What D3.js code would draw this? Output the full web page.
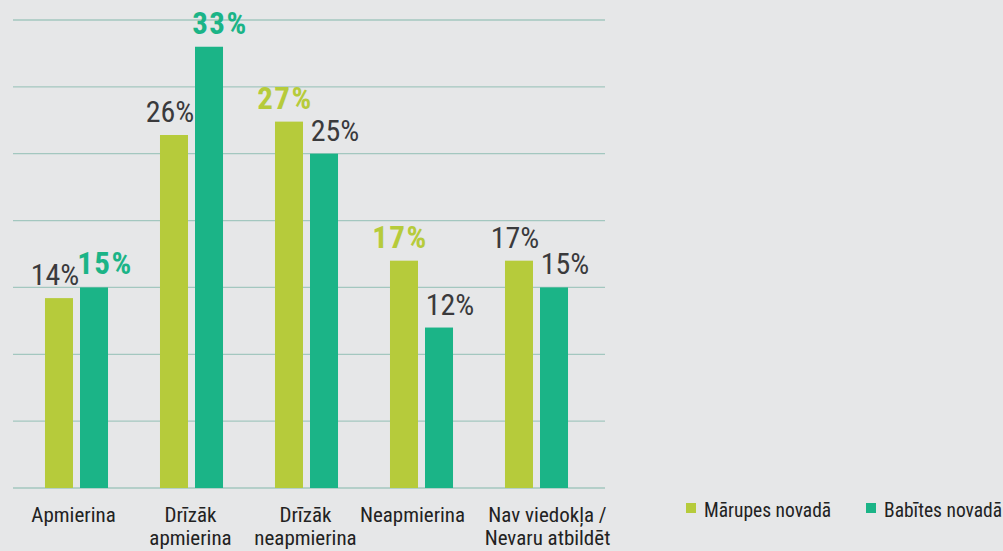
<!DOCTYPE html>
<html>
<head>
<meta charset="UTF-8">
<title>Apmierinātība</title>
<script src="https://cdn.jsdelivr.net/npm/d3@7"></script>
<style>
  body { margin: 0; background: #e6e7e8; }
  text { font-family: "Roboto Condensed", "Liberation Sans Narrow", "DejaVu Sans Condensed", sans-serif; font-stretch: condensed; }
</style>
</head>
<body>
<div id="app"></div>
<script>
  // dati
  var categories = [["Apmierina"], ["Drīzāk", "apmierina"], ["Drīzāk", "neapmierina"], ["Neapmierina"], ["Nav viedokļa /", "Nevaru atbildēt"]];
  var seriesNames = ["Mārupes novadā", "Babītes novadā"];
  var marupe = [14.2, 26.4, 27.4, 17, 17];
  var babite = [15, 33, 25, 12, 15];
  var marupeLabels = ["14%", "26%", "27%", "17%", "17%"];
  var babiteLabels = ["15%", "33%", "25%", "12%", "15%"];
  // kurš uzraksts izcelts (krāsains, trekns)
  var marupeHighlight = [false, false, true, true, false];
  var babiteHighlight = [true, true, false, false, false];
  var yTicks = [0, 5, 10, 15, 20, 25, 30, 35];

  var colors = ["#b6cb3b", "#1bb487"];
  var W = 1003, H = 551;

  var svg = d3.select('#app').append('svg').attr('width', W).attr('height', H);
  svg.append('rect').attr('width', W).attr('height', H).attr('fill', '#e6e7e8');

  var x = d3.scaleBand().domain(d3.range(categories.length)).range([19, 594]).paddingInner(0.452).paddingOuter(0.226);
  var xs = d3.scaleBand().domain([0, 1]).range([0, x.bandwidth()]).paddingInner(0.2);
  var y = d3.scaleLinear().domain([0, 35]).range([488, 20]);

  // režģis
  svg.append('g').selectAll('line').data(yTicks).enter().append('line')
    .attr('x1', 13).attr('x2', 605)
    .attr('y1', function(d){ return y(d); })
    .attr('y2', function(d){ return y(d); })
    .attr('stroke', '#a3c7bf').attr('stroke-width', 1.3);

  var series = [
    { vals: marupe, labels: marupeLabels, hl: marupeHighlight, dx: -4 },
    { vals: babite, labels: babiteLabels, hl: babiteHighlight, dx: 11 }
  ];

  series.forEach(function(s, si){
    var g = svg.append('g');
    g.selectAll('rect').data(s.vals).enter().append('rect')
      .attr('x', function(d, i){ return x(i) + xs(si); })
      .attr('y', function(d){ return y(d); })
      .attr('width', xs.bandwidth())
      .attr('height', function(d){ return y(0) - y(d); })
      .attr('fill', colors[si]);
    g.selectAll('text').data(s.vals).enter().append('text')
      .attr('x', function(d, i){ return x(i) + xs(si) + xs.bandwidth() / 2 + s.dx; })
      .attr('y', function(d){ return y(d) - 13; })
      .attr('text-anchor', 'middle')
      .attr('font-size', function(d, i){ return s.hl[i] ? 31 : 30; })
      .attr('letter-spacing', function(d, i){ return s.hl[i] ? 1.5 : 0; })
      .attr('font-weight', function(d, i){ return s.hl[i] ? 'bold' : 'normal'; })
      .attr('fill', function(d, i){ return s.hl[i] ? colors[si] : '#3a3a3c'; })
      .text(function(d, i){ return s.labels[i]; });
  });

  // kategoriju nosaukumi
  var labelShift = [-3, -1, -1, -9, 11];
  var cat = svg.append('g').selectAll('text').data(categories).enter().append('text')
    .attr('x', function(d, i){ return x(i) + x.bandwidth() / 2 + labelShift[i]; })
    .attr('y', 522)
    .attr('text-anchor', 'middle')
    .attr('font-size', 21)
    .attr('fill', '#222');
  cat.selectAll('tspan').data(function(d){ return d; }).enter().append('tspan')
    .attr('x', function(){ return this.parentNode.getAttribute('x'); })
    .attr('dy', function(d, i){ return i ? 23 : 0; })
    .text(function(d){ return d; });

  // leģenda
  var legX = [686, 866];
  var leg = svg.append('g').selectAll('g').data(seriesNames).enter().append('g')
    .attr('transform', function(d, i){ return 'translate(' + legX[i] + ',503)'; });
  leg.append('rect').attr('width', 10).attr('height', 10).attr('fill', function(d, i){ return colors[i]; });
  leg.append('text').attr('x', 18).attr('y', 14).attr('font-size', 19.5).attr('fill', '#222')
    .text(function(d){ return d; });
</script>
</body>
</html>
